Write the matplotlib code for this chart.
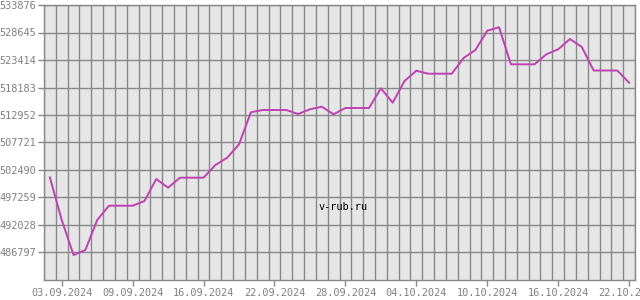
import matplotlib
matplotlib.use("Agg")
import matplotlib.pyplot as plt
from matplotlib.ticker import FixedLocator

values = [501064, 492979, 486322, 487273, 492979, 495699, 495699, 495699, 496593, 500778,
          499123, 501026, 501026, 501026, 503441, 504830, 507379, 513466, 513903, 513903,
          513903, 513143, 514037, 514531, 513085, 514284, 514284, 514284, 518031, 515292,
          519420, 521379, 520808, 520808, 520808, 523795, 525317, 528988, 529635, 522596,
          522596, 522596, 524499, 525450, 527409, 525887, 521417, 521417, 521417, 519096]
xtick_pos = [1, 7, 13, 19, 25, 31, 37, 43, 49]
xtick_labels = ["03.09.2024", "09.09.2024", "16.09.2024", "22.09.2024", "28.09.2024",
                "04.10.2024", "10.10.2024", "16.10.2024", "22.10.2024"]
ytick_vals = [486797, 492028, 497259, 502490, 507721, 512952, 518183, 523414, 528645, 533876]
y_min = 481566
watermark = "v-rub.ru"

grid_c = "#888888"
fig = plt.figure(figsize=(6.4, 3.0), dpi=100)
ax = fig.add_axes([44/640, 20/300, (635-44)/640, 275/300])
ax.set_facecolor("#e6e6e6")

x = list(range(len(values)))
ax.plot(x, values, color="#c040b4", lw=1.4, zorder=3)

ax.set_xlim(-0.5, len(values) - 0.5)
ax.set_ylim(y_min, ytick_vals[-1])

ax.set_yticks(ytick_vals)
ax.set_yticklabels([str(v) for v in ytick_vals])
ax.set_xticks(xtick_pos)
ax.set_xticklabels(xtick_labels)
ax.xaxis.set_minor_locator(FixedLocator([i - 0.5 for i in range(len(values) + 1)]))

ax.grid(False)
ax.grid(True, which="minor", axis="x", color=grid_c, lw=1.0)
ax.grid(True, which="major", axis="y", color=grid_c, lw=1.0)
ax.tick_params(axis="x", which="minor", length=0)
ax.tick_params(axis="both", which="major", length=4, width=1.0, color=grid_c,
               labelcolor="#808080", labelsize=7.4, pad=1.5)
for lab in ax.get_xticklabels() + ax.get_yticklabels():
    lab.set_family("DejaVu Sans Mono")
for s in ax.spines.values():
    s.set_color(grid_c)
    s.set_linewidth(1.0)

fig.text(343/640, 1 - 207/300, watermark, ha="center", va="center",
         family="DejaVu Sans Mono", fontsize=7.4, color="black")

fig.savefig("out.png", dpi=100)
